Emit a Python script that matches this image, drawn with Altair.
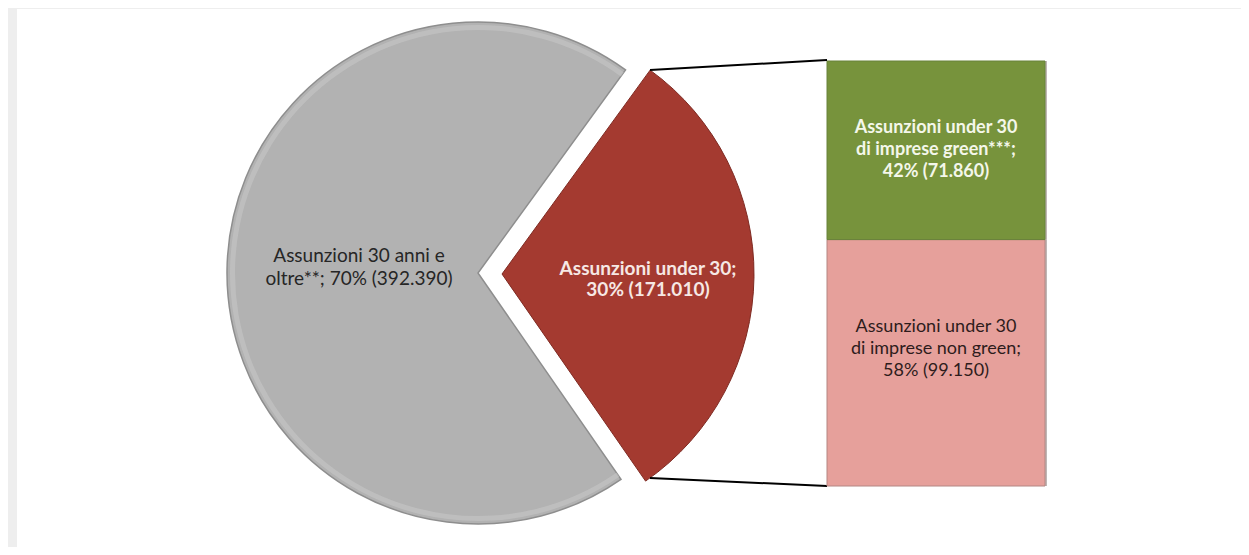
import altair as alt
import pandas as pd

# ---- data ----
pie_keys = ["under30", "over30"]
pie_labels = ["Assunzioni under 30;\n30% (171.010)", "Assunzioni 30 anni e\noltre**; 70% (392.390)"]
pie_values = [171010, 392390]

bar_keys = ["nongreen", "green"]
bar_labels = ["Assunzioni under 30\ndi imprese non green;\n58% (99.150)",
              "Assunzioni under 30\ndi imprese green***;\n42% (71.860)"]
bar_values = [99150, 71860]

pie_df = pd.DataFrame({"key": pie_keys, "label": pie_labels, "value": pie_values, "order": [0, 1]})
bar_df = pd.DataFrame({"key": bar_keys, "label": bar_labels, "value": bar_values, "order": [0, 1]})

total_pie = sum(pie_values)
total_bar = sum(bar_values)

FONT = "Lato"

theta_scale = alt.Scale(domain=[0, total_pie], range=[0.6283, 6.9115])
y_scale = alt.Scale(domain=[0, total_bar], range=[478, 53])

pie_base = (
    alt.Chart(pie_df)
    .transform_window(end="sum(value)", sort=[alt.SortField("order")])
    .transform_calculate(start="datum.end - datum.value", mid="datum.end - datum.value / 2")
)

# background frame
frame = alt.Chart(pie_df).mark_rect(color="white").encode(
    x=alt.value(9), x2=alt.value(1233), y=alt.value(1), y2=alt.value(539)
)

gray_arc = pie_base.transform_filter("datum.key == 'over30'").mark_arc(
    radius=251, color="#b2b2b2", stroke="#8e8e8e", strokeWidth=1.5
).encode(
    theta=alt.Theta("start:Q", scale=theta_scale),
    theta2="end:Q",
    x=alt.value(470), y=alt.value(265),
)

gray_rim = pie_base.transform_filter("datum.key == 'over30'").mark_arc(
    radius=248, radius2=243, color="#c6c6c6", opacity=0.6
).encode(
    theta=alt.Theta("start:Q", scale=theta_scale),
    theta2="end:Q",
    x=alt.value(470), y=alt.value(265),
)

red_arc = pie_base.transform_filter("datum.key == 'under30'").mark_arc(
    radius=252, color="#a43a30", stroke="#7e2a22", strokeWidth=1
).encode(
    theta=alt.Theta("start:Q", scale=theta_scale),
    theta2="end:Q",
    x=alt.value(494), y=alt.value(266),
)

gray_text = pie_base.transform_filter("datum.key == 'over30'").mark_text(
    radius=119, font=FONT, fontSize=19, color="#262626", lineBreak="\n",
    lineHeight=23, align="center", baseline="middle", dy=-16
).encode(
    theta=alt.Theta("mid:Q", scale=theta_scale),
    text="label:N",
    x=alt.value(470), y=alt.value(265),
)

red_text = pie_base.transform_filter("datum.key == 'under30'").mark_text(
    radius=146, font=FONT, fontSize=19, fontWeight="bold", color="#f6e8e4", lineBreak="\n",
    lineHeight=21, align="center", baseline="middle", dy=-7
).encode(
    theta=alt.Theta("mid:Q", scale=theta_scale),
    text="label:N",
    x=alt.value(494), y=alt.value(266),
)

connectors = alt.Chart(pd.DataFrame({"x": [642, 642], "y": [62, 470], "x2": [819, 819], "y2": [52, 478]})).mark_rule(
    color="black", strokeWidth=2
).encode(
    x=alt.X("x:Q", scale=None), y=alt.Y("y:Q", scale=None),
    x2="x2:Q", y2="y2:Q",
)

bar_base = (
    alt.Chart(bar_df)
    .transform_window(top="sum(value)", sort=[alt.SortField("order")])
    .transform_calculate(bottom="datum.top - datum.value", mid="datum.top - datum.value / 2")
)

bar_shadow = bar_base.mark_rect(color="#8a7a78", opacity=0.55).encode(
    y=alt.Y("bottom:Q", scale=y_scale, axis=None),
    y2="top:Q",
    x=alt.value(821), x2=alt.value(1039),
)

bars = bar_base.mark_rect(strokeWidth=1).encode(
    y=alt.Y("bottom:Q", scale=y_scale, axis=None),
    y2="top:Q",
    x=alt.value(819), x2=alt.value(1037),
    color=alt.Color("key:N", scale=alt.Scale(domain=["nongreen", "green"], range=["#e6a09b", "#77933c"]), legend=None),
    stroke=alt.Stroke("key:N", scale=alt.Scale(domain=["nongreen", "green"], range=["#b48682", "#68823a"]), legend=None),
)

green_text = bar_base.transform_filter("datum.key == 'green'").mark_text(
    font=FONT, fontSize=18, fontWeight="bold", color="#f4f7ea", lineBreak="\n",
    lineHeight=22, align="center", baseline="middle", dy=-22
).encode(
    y=alt.Y("mid:Q", scale=y_scale, axis=None),
    x=alt.value(928),
    text="label:N",
)

pink_text = bar_base.transform_filter("datum.key == 'nongreen'").mark_text(
    font=FONT, fontSize=18, color="#2e1c1c", lineBreak="\n", dy=-36,
    lineHeight=22, align="center", baseline="middle"
).encode(
    y=alt.Y("mid:Q", scale=y_scale, axis=None),
    x=alt.value(928),
    text="label:N",
)

chart = alt.layer(
    frame, gray_arc, gray_rim, red_arc, connectors, bar_shadow, bars,
    gray_text, red_text, green_text, pink_text
).properties(
    width=1233, height=539,
    autosize=alt.AutoSizeParams(type="none"),
    padding=0,
    background="#eeeeee",
).configure_view(stroke=None).resolve_scale(color="independent", stroke="independent")

chart.save("out.html", embed_options={"renderer": "svg", "actions": False})
